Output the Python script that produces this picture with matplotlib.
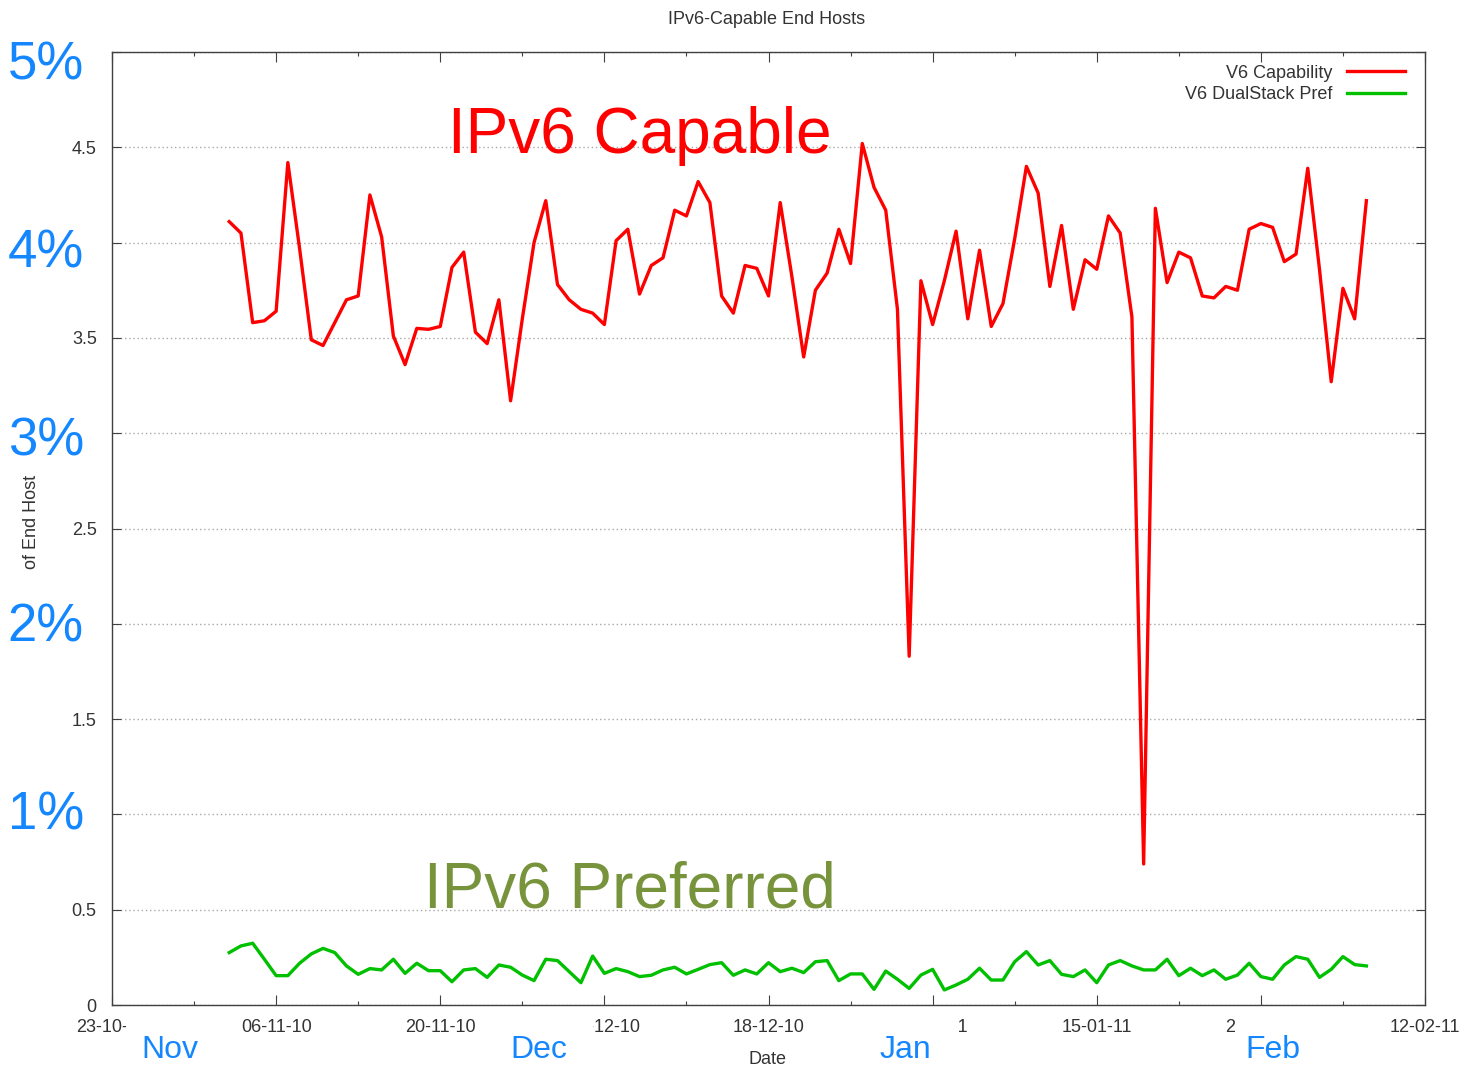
import matplotlib
matplotlib.use('Agg')
import matplotlib.pyplot as plt
import pandas as pd
from matplotlib.patches import Rectangle

plt.rcParams['font.family'] = ['Liberation Sans', 'DejaVu Sans']

# ---------------- data ----------------
start_date = '2010-11-02'

capability = [
    4.11, 4.05, 3.58, 3.59, 3.64, 4.42, 3.97, 3.49, 3.46, 3.58,
    3.70, 3.72, 4.25, 4.03, 3.51, 3.36, 3.55, 3.545, 3.56, 3.87,
    3.95, 3.53, 3.47, 3.70, 3.17, 3.60, 4.00, 4.22, 3.78, 3.70,
    3.65, 3.63, 3.57, 4.01, 4.07, 3.73, 3.88, 3.92, 4.17, 4.14,
    4.32, 4.21, 3.72, 3.63, 3.88, 3.865, 3.72, 4.21, 3.82, 3.40,
    3.75, 3.84, 4.07, 3.89, 4.52, 4.29, 4.17, 3.65, 1.83, 3.80,
    3.57, 3.80, 4.06, 3.60, 3.96, 3.56, 3.68, 4.02, 4.40, 4.26,
    3.77, 4.09, 3.65, 3.91, 3.86, 4.14, 4.05, 3.61, 0.74, 4.18,
    3.79, 3.95, 3.92, 3.72, 3.71, 3.77, 3.75, 4.07, 4.10, 4.08,
    3.90, 3.94, 4.39, 3.86, 3.27, 3.76, 3.60, 4.22,
]

dualstack = [
    0.275, 0.310, 0.324, 0.240, 0.154, 0.154, 0.219, 0.268, 0.297, 0.275,
    0.205, 0.161, 0.191, 0.184, 0.240, 0.166, 0.219, 0.180, 0.180, 0.122,
    0.184, 0.191, 0.145, 0.210, 0.198, 0.157, 0.128, 0.240, 0.233, 0.175,
    0.117, 0.257, 0.166, 0.191, 0.175, 0.149, 0.156, 0.184, 0.198, 0.163,
    0.187, 0.212, 0.222, 0.156, 0.184, 0.163, 0.222, 0.175, 0.193, 0.170,
    0.227, 0.233, 0.128, 0.163, 0.163, 0.082, 0.178, 0.135, 0.087, 0.157,
    0.187, 0.079, 0.105, 0.135, 0.193, 0.131, 0.131, 0.227, 0.280, 0.210,
    0.233, 0.161, 0.149, 0.184, 0.117, 0.210, 0.233, 0.205, 0.184, 0.184,
    0.240, 0.154, 0.193, 0.154, 0.184, 0.135, 0.157, 0.219, 0.149, 0.135,
    0.210, 0.254, 0.240, 0.145, 0.187, 0.254, 0.212, 0.205,
]

series_names = ['V6 Capability', 'V6 DualStack Pref']

x_range = ['2010-10-23', '2011-02-12']
tick_dates = ['2010-10-23', '2010-11-06', '2010-11-20', '2010-12-04', '2010-12-18',
              '2011-01-01', '2011-01-15', '2011-01-29', '2011-02-12']
tick_labels = ['23-10-10', '06-11-10', '20-11-10', '04-12-10', '18-12-10',
               '01-01-11', '15-01-11', '29-01-11', '12-02-11']
minor_tick_dates = ['2010-10-30', '2010-11-13', '2010-11-27', '2010-12-11',
                    '2010-12-25', '2011-01-08', '2011-01-22', '2011-02-05']

y_ticks = [0, 0.5, 1, 1.5, 2, 2.5, 3, 3.5, 4, 4.5, 5]
y_tick_labels = ['0', '0.5', '', '1.5', '', '2.5', '', '3.5', '', '4.5', '']

pct_labels = ['1%', '2%', '3%', '4%', '5%']
month_labels = ['Nov', 'Dec', 'Jan', 'Feb']

title = 'IPv6-Capable End Hosts'
x_label = 'Date'
y_label = 'of End Host'
big_capable = 'IPv6 Capable'
big_preferred = 'IPv6 Preferred'

# ---------------- figure ----------------
W, H = 1460, 1074
fig = plt.figure(figsize=(W / 100, H / 100), dpi=100)


def fx(px):
    return px / W


def fy(py):
    return 1 - py / H


ax = fig.add_axes([fx(112), fy(1005), (1425 - 112) / W, (1005 - 52) / H])

dates = pd.date_range(start_date, periods=len(capability), freq='D')

RED = '#FF0000'
GREEN = '#00C000'
TXT = '#333333'
BLUE = '#1487FF'

ax.plot(dates, capability, color=RED, lw=2.4, label=series_names[0],
        solid_joinstyle='round', zorder=3)
ax.plot(dates, dualstack, color=GREEN, lw=2.4, label=series_names[1],
        solid_joinstyle='round', zorder=3)

ax.set_xlim(pd.Timestamp(x_range[0]), pd.Timestamp(x_range[1]))
ax.set_ylim(0, 5)

ax.set_xticks(pd.to_datetime(tick_dates))
ax.set_xticklabels(tick_labels)
ax.set_xticks(pd.to_datetime(minor_tick_dates), minor=True)
ax.set_yticks(y_ticks)
ax.set_yticklabels(y_tick_labels)

ax.tick_params(axis='both', which='both', direction='in', top=True, right=True,
               colors='#404040', labelcolor=TXT, labelsize=13)
ax.tick_params(axis='x', which='major', length=7, width=0.8, pad=10)
ax.tick_params(axis='x', which='minor', length=3, width=0.8)
ax.tick_params(axis='y', which='major', length=6.5, width=0.8, pad=11)

for s in ax.spines.values():
    s.set_color('#404040')
    s.set_linewidth(1.0)

ax.yaxis.grid(True, color='#A8A8A8', linestyle=(0, (1, 2)), linewidth=1.0)
ax.set_axisbelow(True)

leg = ax.legend(loc='upper right', bbox_to_anchor=(0.9848, 0.9868),
                markerfirst=False, frameon=False, fontsize=13,
                handlelength=3.2, handletextpad=0.8, labelspacing=0.27,
                borderpad=0, borderaxespad=0)
for t in leg.get_texts():
    t.set_color(TXT)

# gnuplot texts
fig.text(fx(767), fy(19), title, ha='center', va='center', fontsize=13, color=TXT)
fig.text(fx(767), fy(1059), x_label, ha='center', va='center', fontsize=13, color=TXT)
fig.text(fx(31), fy(522), y_label, rotation=90, ha='center', va='center',
         fontsize=13, color=TXT)

# white cover boxes of the slide overlay (hide parts of date labels)
cover_spans = [(126, 205), (505, 593), (875, 959), (1235, 1305)]
for x0, x1 in cover_spans:
    fig.add_artist(Rectangle((fx(x0), fy(1068)), (x1 - x0) / W, (1068 - 1012) / H,
                             transform=fig.transFigure, facecolor='white',
                             edgecolor='none', zorder=5))

# overlay annotations
fig.text(fx(448), fy(153), big_capable, color='#FF0000', fontsize=46,
         ha='left', va='baseline', zorder=6)
fig.text(fx(424), fy(907), big_preferred, color='#77933C', fontsize=46,
         ha='left', va='baseline', zorder=6)

pct_baselines = [829, 642, 455, 267, 80]
for lab, yb in zip(pct_labels, pct_baselines):
    fig.text(fx(84), fy(yb), lab, color=BLUE, fontsize=38, ha='right',
             va='baseline', zorder=6)

month_x = [141, 510, 880, 1245]
for lab, xl in zip(month_labels, month_x):
    fig.text(fx(xl), fy(1058), lab, color=BLUE, fontsize=23, ha='left',
             va='baseline', zorder=6)

fig.savefig('out.png', dpi=100, facecolor='white')
